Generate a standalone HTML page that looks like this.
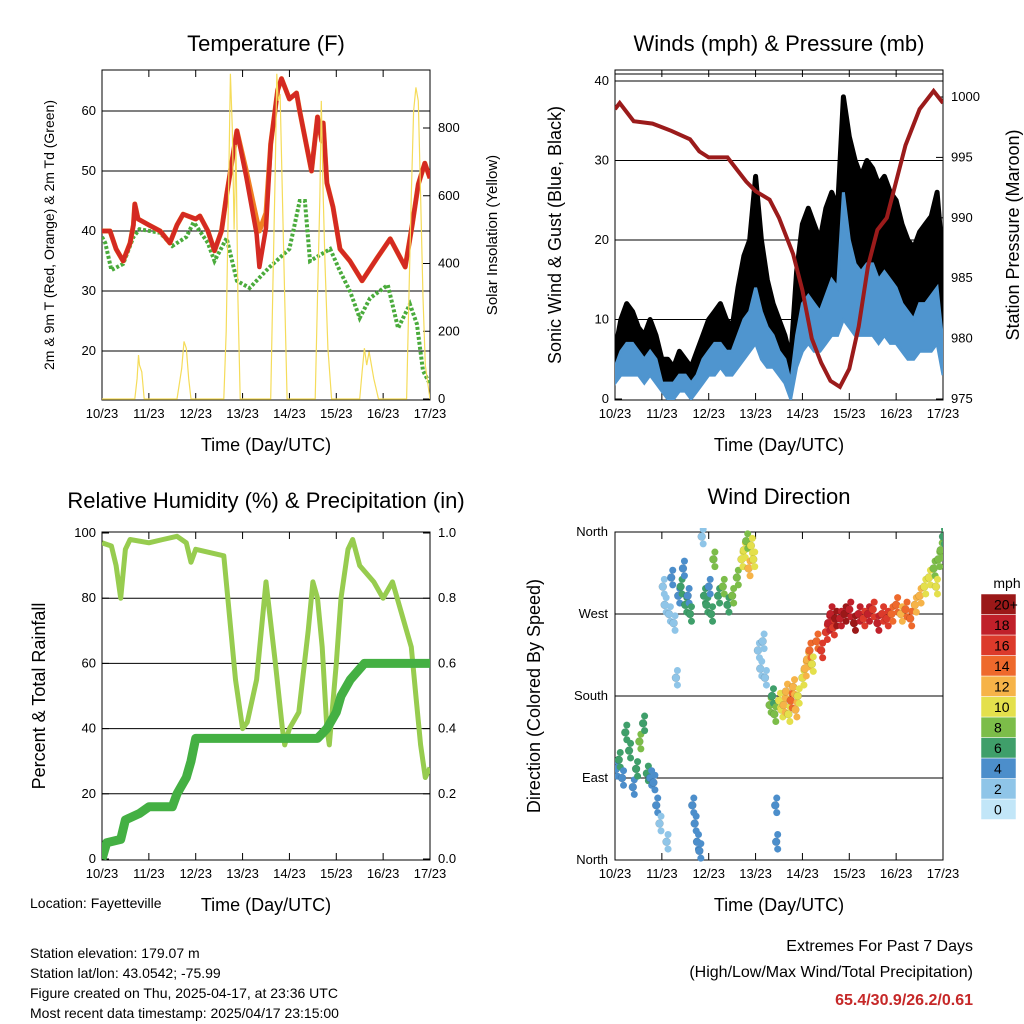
<!DOCTYPE html>
<html><head><meta charset="utf-8"><style>
body{margin:0;background:#fff}
svg{display:block;font-family:"Liberation Sans",Arial,sans-serif}
</style></head><body>
<svg id="s" width="1024" height="1024" viewBox="0 0 1024 1024">
<rect width="1024" height="1024" fill="#fff"/>
<g id="p1"></g>
<g id="p2"></g>
<g id="p3"></g>
<g id="p4"></g>
<g font-size="14" fill="#000">
<text x="30" y="908">Location: Fayetteville</text>
<text x="30" y="958">Station elevation: 179.07 m</text>
<text x="30" y="978">Station lat/lon: 43.0542; -75.99</text>
<text x="30" y="998">Figure created on Thu, 2025-04-17, at 23:36 UTC</text>
<text x="30" y="1018">Most recent data timestamp: 2025/04/17 23:15:00</text>
</g>
<g text-anchor="end" font-size="16">
<text x="973" y="951">Extremes For Past 7 Days</text>
<text x="973" y="977">(High/Low/Max Wind/Total Precipitation)</text>
<text x="973" y="1005" fill="#c62828" font-weight="bold">65.4/30.9/26.2/0.61</text>
</g>
</svg>
<script>
// ---------- data ----------
const dayLabels=["10/23","11/23","12/23","13/23","14/23","15/23","16/23","17/23"];
// Temperature (F)
const tTimes=[0,0.17,0.3,0.45,0.6,0.67,0.7,0.77,1.0,1.24,1.45,1.6,1.73,2.0,2.09,2.26,2.4,2.55,2.66,2.88,3.08,3.3,3.36,3.5,3.6,3.75,3.83,4.0,4.15,4.22,4.47,4.6,4.69,4.72,4.8,4.93,5.08,5.29,5.55,5.87,6.15,6.47,6.62,6.75,6.89,7.0];
const tRed=[40,40,37,35,38,41,44.5,42,41,40,38,41,42.8,42,42.5,40,36.7,40,46,56.7,49,39.5,34,40.5,54.5,63.5,65.4,62,63,60,50,59,55,58,48,44,37,35,31.7,35.5,38.7,34,41,47.8,51.3,48.8];
const tOrange=[40,40,37,35,38,41,44.5,42,41,40,38,41,42.8,42,42.5,40,36.7,40,46,56.7,50,42,40,43,54.5,63.5,65.4,62,63,60,50,59,55,58,48,44,37,35,31.7,35.5,38.7,34,41,47.8,51.3,48.8];
const tdTimes=[0,0.07,0.2,0.45,0.67,0.8,1.24,1.5,1.8,1.95,2.0,2.26,2.4,2.66,2.88,3.15,3.58,4.0,4.22,4.33,4.44,4.87,5.08,5.29,5.5,5.72,6.1,6.32,6.57,6.72,6.85,7.0];
const tdVals=[39,38,33.5,34.5,39,40.3,39.7,37.5,39,41.4,41,38,35,38.8,31.7,30.5,34,37,45,45,35,37,33.3,30,25.5,28.8,31,23.8,27.8,24.5,16.7,14.5];
// Solar insolation (W/m2)
const solTimes=[0,0.7,0.75,0.78,0.8,0.85,0.9,1.6,1.7,1.75,1.8,1.85,1.9,2.6,2.65,2.7,2.74,2.78,2.82,2.86,2.9,2.95,3.6,3.65,3.7,3.73,3.76,3.8,3.85,3.9,3.95,4.55,4.6,4.65,4.68,4.72,4.76,4.82,4.9,5.5,5.55,5.6,5.65,5.7,5.8,5.9,6.5,6.55,6.6,6.65,6.7,6.75,6.8,6.85,6.9,7.0];
const solVals=[0,0,60,130,100,80,0,0,90,170,150,60,0,0,200,600,960,800,500,750,300,0,0,350,700,960,880,900,600,300,0,0,300,600,880,600,400,150,0,0,80,150,100,140,60,0,0,300,600,850,920,880,600,300,100,0];
// Winds (mph) at 3-hour steps from 10/23
const gust=[6,10,12,11,9,8,10,8, 5,5,4,6,5,4,6,8, 10,11,12,10,9,14,18,20, 28,20,15,12,10,8,5,16, 22,24,22,20,24,26,24,38, 33,30,28,30,29,27,28,26, 25,22,20,19,21,22,23,26, 17];
const sust=[4,6,7,7,6,5,6,5, 2,2,2,3,3,2,3,5, 6,7,7,6,6,8,10,11, 14,11,9,8,6,5,2,8, 12,13,12,11,13,15,14,26, 20,17,16,17,17,15,16,15, 14,12,11,10,12,12,13,14, 7];
const lull=[2,3,3,3,3,2,3,2, 1,0,0,1,1,0,1,2, 3,3,4,3,3,4,5,6, 7,5,4,4,3,2,0,4, 6,7,6,6,7,8,8,10, 9,8,8,8,8,7,8,7, 7,6,5,5,6,6,6,7, 3];
// Pressure (mb)
const pTimes=[0,0.1,0.4,0.8,1.2,1.6,1.8,2.0,2.4,2.6,2.8,3.0,3.3,3.5,3.8,4.0,4.2,4.4,4.6,4.8,5.0,5.2,5.4,5.6,5.8,6.0,6.2,6.5,6.8,6.9,7.0];
const pVals=[999,999.5,998,997.8,997.2,996.5,995.5,995,995,994,993,992.2,991.5,990,987,984,980,978,976.5,976,977.5,981,986,989,990,993,996,999,1000.5,1000,999.5];
// Relative humidity (%)
const rhTimes=[0,0.2,0.3,0.4,0.5,0.6,1.0,1.3,1.6,1.8,1.9,2.0,2.3,2.6,2.75,2.85,3.0,3.1,3.3,3.4,3.5,3.7,3.85,3.9,4.0,4.2,4.4,4.5,4.6,4.7,4.8,4.85,5.0,5.1,5.25,5.35,5.5,5.8,6.0,6.2,6.4,6.5,6.6,6.7,6.8,6.9,7.0];
const rhVals=[97,96,90,80,95,98,97,98,99,97,91,95,94,93,70,55,40,42,55,70,85,60,40,35,40,45,70,85,80,65,40,35,60,80,95,98,90,85,80,85,75,70,65,50,35,25,28];
// Total precipitation (in)
const prTimes=[0,0.1,0.4,0.5,0.8,1.0,1.5,1.6,1.8,1.9,2.0,4.6,4.8,5.0,5.1,5.3,5.6,7.0];
const prVals=[0,0.05,0.06,0.12,0.14,0.16,0.16,0.2,0.25,0.3,0.37,0.37,0.4,0.45,0.5,0.55,0.6,0.6];
// Wind direction (deg) & speed (mph)
const wdTimes=[0.02,0.08,0.15,0.22,0.3,0.38,0.45,0.52,0.6,0.68,0.75,0.82,0.88,0.95,1.02,1.06,1.1,1.15,1.2,1.25,1.3,1.35,1.4,1.45,1.5,1.55,1.6,1.65,1.7,1.75,1.8,1.85,1.9,1.95,2.0,2.05,2.1,2.2,2.3,2.4,2.5,2.6,2.7,2.75,2.8,2.85,2.9,2.95,3.05,3.1,3.15,3.2,3.3,3.35,3.4,3.42,3.44,3.5,3.55,3.6,3.65,3.7,3.75,3.8,3.85,3.9,4.0,4.05,4.1,4.15,4.2,4.3,4.4,4.5,4.55,4.6,4.65,4.7,4.8,4.9,5.0,5.1,5.2,5.3,5.4,5.5,5.6,5.7,5.8,5.9,6.0,6.1,6.2,6.3,6.4,6.5,6.6,6.7,6.8,6.85,6.9,6.95,7.0];
const wdDirs=[100,110,90,140,120,80,100,130,150,95,90,85,60,40,300,280,20,270,310,260,200,290,300,320,280,290,270,60,40,20,10,355,290,280,300,270,330,290,300,280,290,310,330,340,350,320,345,330,230,210,240,200,170,180,160,60,20,175,165,170,185,160,175,190,165,180,200,210,220,230,215,240,230,250,260,270,255,265,265,270,275,260,270,265,270,275,260,270,265,270,280,270,275,265,280,290,300,310,320,300,330,340,355];
const wdSpeeds=[4,5,4,6,5,4,5,7,6,5,4,3,3,2,1,2,1,2,3,1,2,4,5,4,6,3,5,4,3,4,3,2,5,6,4,5,7,6,7,6,7,8,9,10,8,11,9,10,1,2,1,2,7,6,8,4,3,9,10,11,12,10,13,11,12,10,9,11,12,13,10,14,15,16,17,18,16,19,18,20,17,19,18,16,17,15,18,16,15,14,13,12,13,14,12,11,10,9,8,9,8,7,6];
const cbLabels=["0","2","4","6","8","10","12","14","16","18","20+"];
const cbColors=["#c2e6f8","#8fc5e8","#4c8ecb","#3f9f6a","#7cbd49","#e4e04c","#f6b348","#ee692c","#dc3a2b","#c0202a","#9b1818"];

// ---------- helpers ----------
const NS="http://www.w3.org/2000/svg";
function mk(parent,tag,attrs){const e=document.createElementNS(NS,tag);for(const k in attrs)e.setAttribute(k,attrs[k]);parent.appendChild(e);return e;}
function txt(parent,x,y,s,size,anchor,rot){const e=mk(parent,"text",{x:x,y:y,"font-size":size,"text-anchor":anchor||"middle"});if(rot)e.setAttribute("transform","rotate(-90 "+x+" "+y+")");e.textContent=s;return e;}
function lin(d0,d1,r0,r1){return v=>r0+(v-d0)/(d1-d0)*(r1-r0);}
function pathFrom(xs,ys,fx,fy){return xs.map((t,i)=>(i?"L":"M")+fx(t).toFixed(1)+","+fy(ys[i]).toFixed(1)).join("");}

function frame(g,L,R,T,B,fx,gridVals,fy,title,ttlY){
  const ax=mk(g,"g",{});
  
  
  gridVals.forEach(v=>{const gl=mk(ax,"line",{x1:L,x2:R,y1:fy(v),y2:fy(v),stroke:"#000","stroke-width":1});
    
    });
  dayLabels.forEach((d,i)=>{const x=fx(i);
    mk(ax,"line",{x1:x,x2:x,y1:B,y2:B-7,stroke:"#000"});
    mk(ax,"line",{x1:x,x2:x,y1:T,y2:T+7,stroke:"#000"});
    const tl=txt(ax,x,B+18,d,13);
    
    });
  const r=mk(ax,"rect",{x:L,y:T,width:R-L,height:B-T,fill:"none",stroke:"#000","stroke-width":1});
  
  
  const xt=txt(ax,(L+R)/2,B+51,"Time (Day/UTC)",18);
  
  
  const tt=txt(ax,(L+R)/2,ttlY,title,22);
  
  
  return ax;
}
function yticks(ax,vals,fy,x,side,fmt){
  vals.forEach(v=>{const y=fy(v);
    mk(ax,"line",{x1:x,x2:x+(side<0?7:-7),y1:y,y2:y,stroke:"#000"});
    const t=txt(ax,x+(side<0?-6:8),y+4,fmt?fmt(v):String(v),13,side<0?"end":"start");
    
    });
}

// ---------- Panel 1: Temperature ----------
(function(){
  const g=document.getElementById("p1");const L=102,R=430,T=70,B=400;
  const fx=lin(0,7,L,R), fy=lin(20,60,351,111), fs=lin(0,800,399,128);
  const ax=frame(g,L,R,T,B,fx,[20,30,40,50,60],fy,"Temperature (F)",51);
  yticks(ax,[20,30,40,50,60],fy,L,-1);
  yticks(ax,[0,200,400,600,800],fs,R,1);
  const cp=mk(g,"clipPath",{id:"c1"});mk(cp,"rect",{x:L,y:T,width:R-L,height:B-T});
  const d=mk(g,"g",{"clip-path":"url(#c1)"});
  const td=mk(d,"path",{d:pathFrom(tdTimes,tdVals,fx,fy),fill:"none",stroke:"#4aab3c","stroke-width":4,"stroke-dasharray":"3 2"});
  
  
  const or=mk(d,"path",{d:pathFrom(tTimes,tOrange,fx,fy),fill:"none",stroke:"#f07f22","stroke-width":5,"stroke-linejoin":"round"});
  
  
  const rd=mk(d,"path",{d:pathFrom(tTimes,tRed,fx,fy),fill:"none",stroke:"#d42a22","stroke-width":4.5,"stroke-linejoin":"round"});
  
  
  const sol=mk(d,"path",{d:pathFrom(solTimes,solVals,fx,fs),fill:"none",stroke:"#f5dc5a","stroke-width":1.2});
  
  
  const yl=txt(g,54,235,"2m & 9m T (Red, Orange) & 2m Td (Green)",14,"middle",true);
  
  
  const yr=txt(g,497,235,"Solar Insolation (Yellow)",15,"middle",true);
  
  
})();

// ---------- Panel 2: Winds & Pressure ----------
(function(){
  const g=document.getElementById("p2");const L=615,R=943,T=70,B=400;
  const fx=lin(0,7,L,R), fy=lin(0,40,399,81), fp=lin(975,1000,399,97);
  const ax=frame(g,L,R,T,B,fx,[10,20,30,40],fy,"Winds (mph) & Pressure (mb)",51);
  yticks(ax,[0,10,20,30,40],fy,L,-1);
  yticks(ax,[975,980,985,990,995,1000],fp,R,1);
  const cp=mk(g,"clipPath",{id:"c2"});mk(cp,"rect",{x:L,y:T,width:R-L,height:B-T});
  const d=mk(g,"g",{"clip-path":"url(#c2)"});
  const ts=gust.map((_,i)=>i*0.125);
  const gp=pathFrom(ts,gust,fx,fy)+ts.slice().reverse().map((t,i)=>"L"+fx(t).toFixed(1)+","+fy(sust[sust.length-1-i]).toFixed(1)).join("")+"Z";
  const ga=mk(d,"path",{d:gp,fill:"#000",stroke:"#000","stroke-width":5,"stroke-linejoin":"round"});
  
  
  const bp=pathFrom(ts,sust,fx,fy)+ts.slice().reverse().map((t,i)=>"L"+fx(t).toFixed(1)+","+fy(lull[lull.length-1-i]).toFixed(1)).join("")+"Z";
  const ba=mk(d,"path",{d:bp,fill:"#4f95cf",stroke:"#4f95cf","stroke-width":3});
  
  
  const pr=mk(d,"path",{d:pathFrom(pTimes,pVals,fx,fp),fill:"none",stroke:"#9b1b1b","stroke-width":4});
  
  
  mk(g,"line",{x1:L,x2:R,y1:74,y2:74,stroke:"#000"});
  const yl=txt(g,561,235,"Sonic Wind & Gust (Blue, Black)",18,"middle",true);
  
  
  const yr=txt(g,1019,235,"Station Pressure (Maroon)",18,"middle",true);
  
  
})();

// ---------- Panel 3: RH & Precip ----------
(function(){
  const g=document.getElementById("p3");const L=102,R=430,T=532,B=860;
  const fx=lin(0,7,L,R), fy=lin(0,100,859,533), fr=lin(0,1,859,533);
  const ax=frame(g,L,R,T,B,fx,[20,40,60,80],fy,"Relative Humidity (%) & Precipitation (in)",508);
  yticks(ax,[0,20,40,60,80,100],fy,L,-1);
  yticks(ax,[0,0.2,0.4,0.6,0.8,1.0],fr,R,1,v=>v.toFixed(1));
  const cp=mk(g,"clipPath",{id:"c3"});mk(cp,"rect",{x:L,y:T-3,width:R-L,height:B-T+6});
  const d=mk(g,"g",{"clip-path":"url(#c3)"});
  const rh=mk(d,"path",{d:pathFrom(rhTimes,rhVals,fx,fy),fill:"none",stroke:"#97cc4f","stroke-width":5,"stroke-linejoin":"round"});
  
  
  const pc=mk(d,"path",{d:pathFrom(prTimes,prVals,fx,fr),fill:"none",stroke:"#44b043","stroke-width":9,"stroke-linejoin":"round"});
  
  
  const yl=txt(g,45,696,"Percent & Total Rainfall",18,"middle",true);
  
  
})();

// ---------- Panel 4: Wind direction ----------
(function(){
  const g=document.getElementById("p4");const L=615,R=943,T=532,B=860;
  const fx=lin(0,7,L,R), fy=lin(0,360,860,532);
  const ax=frame(g,L,R,T,B,fx,[90,180,270],fy,"Wind Direction",504);
  const names=["North","East","South","West","North"];
  [0,90,180,270,360].forEach((v,i)=>{const y=fy(v);
    mk(ax,"line",{x1:L,x2:L+7,y1:y,y2:y,stroke:"#000"});
    const t=txt(ax,L-7,y+4,names[i],13,"end");
    
    });
  const cp=mk(g,"clipPath",{id:"c4"});mk(cp,"rect",{x:L,y:T-4,width:R-L,height:B-T+8});
  const d=mk(g,"g",{"clip-path":"url(#c4)"});
  const col=s=>cbColors[Math.min(10,Math.round(s/2))];
  wdTimes.forEach((t,i)=>{
    const c=mk(d,"circle",{cx:fx(t),cy:fy(wdDirs[i]),r:4,fill:col(wdSpeeds[i]),stroke:"#00000030","stroke-width":0.5});
    
    
    [-8,8].forEach(off=>{const c2=mk(d,"circle",{cx:fx(t)+1.5,cy:fy(wdDirs[i]+off),r:3.5,fill:col(wdSpeeds[i])});
      
      });
  });
  const yl=txt(g,540,696,"Direction (Colored By Speed)",18,"middle",true);
  
  
  const cb=mk(g,"g",{});
  
  
  const top=594,h=20.5;
  const mu=txt(cb,1007,588,"mph",14);
  
  
  cbLabels.forEach((lab,i)=>{const y=top+(10-i)*h;
    const r=mk(cb,"rect",{x:981,y:y,width:35,height:h,fill:cbColors[i],stroke:"#fff","stroke-width":0.5});
    
    
    const t=txt(cb,994,y+h/2+5,lab,14,"start");
    
    });
})();
</script>
</body></html>
